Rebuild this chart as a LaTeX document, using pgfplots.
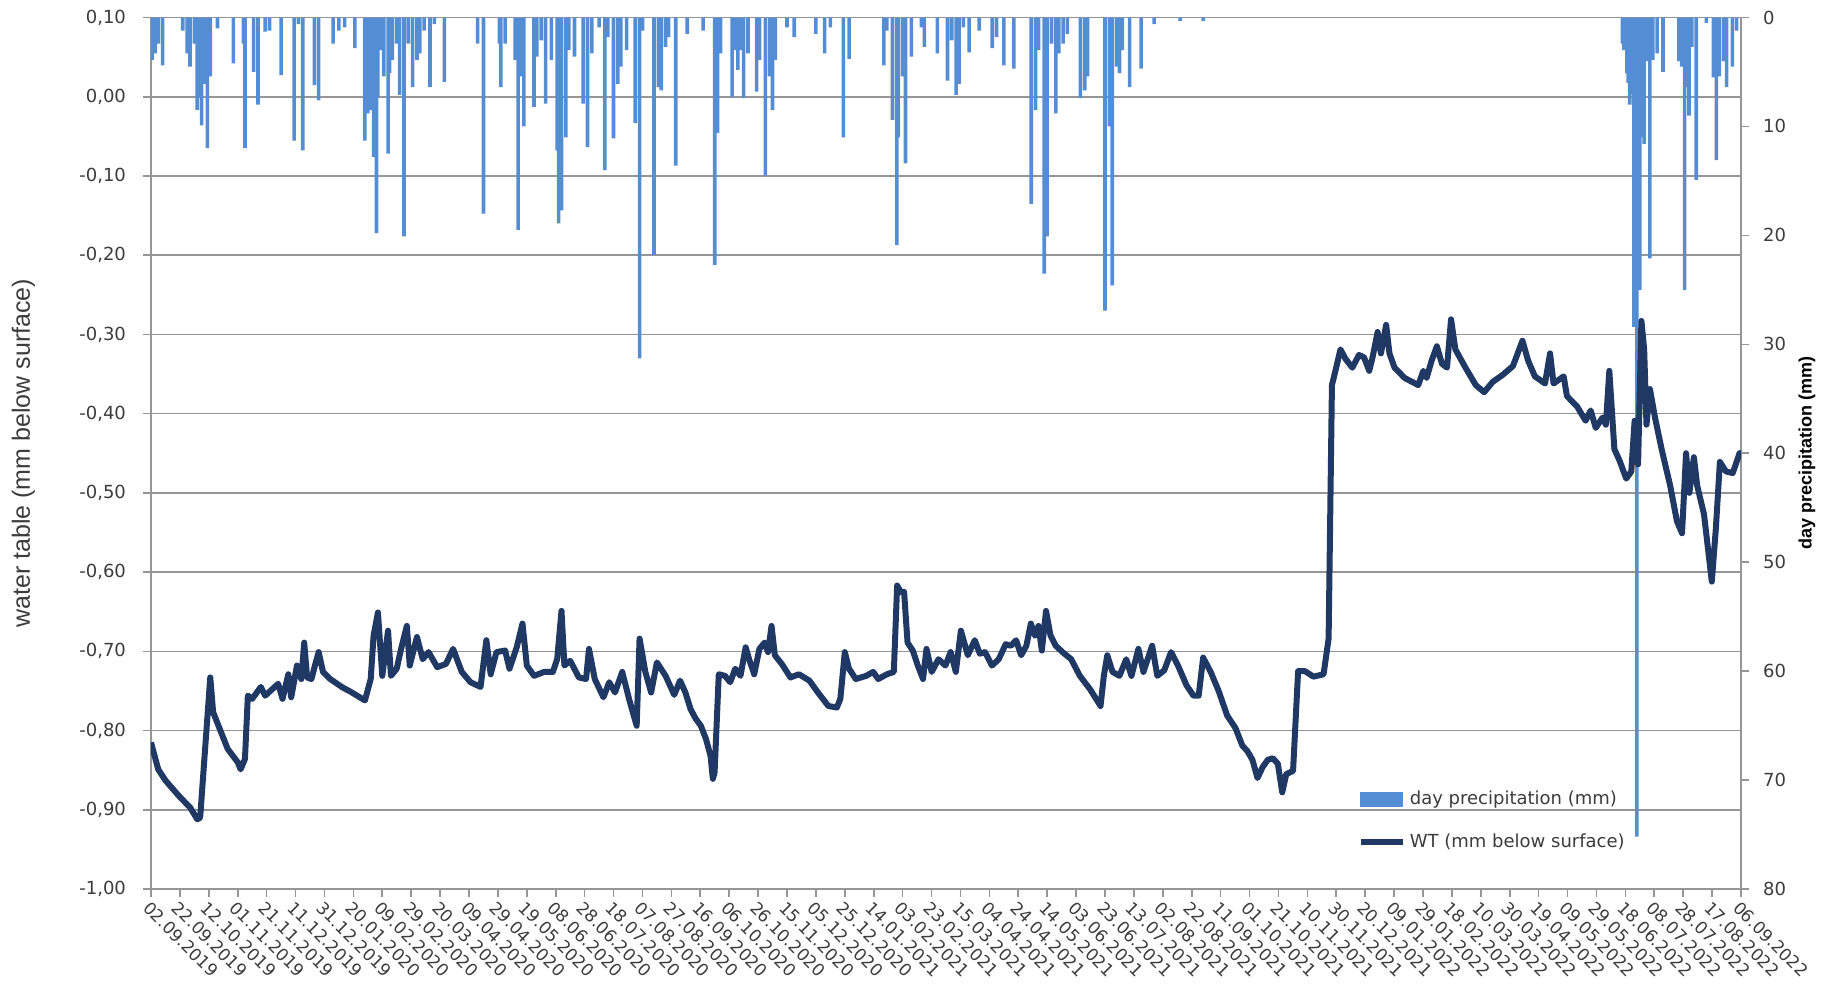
\documentclass[border=0pt]{standalone}
\usepackage{fontspec}
\setmainfont{DejaVu Sans}
\newfontfamily\labelfont{Liberation Sans}
\usepackage{pgfplots}
\pgfplotsset{compat=1.18}
\usepackage{pgfplotstable}

\definecolor{precip}{RGB}{84,141,212}
\definecolor{wtline}{RGB}{31,56,100}
\definecolor{gridgray}{RGB}{150,150,150}
\definecolor{txt}{RGB}{60,60,60}

\pgfplotstableread{
day mm
1 3.9
3 3.3
5 2.4
8 4.4
22 1.2
25 3.3
27 4.5
30 2.4
32 8.5
34 7.3
35 9.9
37 6.1
39 12.0
41 5.4
46 1.0
57 4.2
64 2.4
65 12.0
71 5.0
74 8.0
79 1.3
82 1.2
90 5.3
99 11.3
102 0.6
105 12.2
113 6.2
116 7.6
126 2.4
130 1.2
134 0.9
141 2.8
148 11.3
150 8.8
152 8.5
154 12.8
156 19.8
157 7.3
159 3.0
161 5.4
164 12.5
165 5.1
167 3.9
170 2.4
172 7.1
175 20.1
178 2.4
181 6.4
184 3.9
186 3.3
189 1.2
193 6.4
196 0.6
203 5.9
226 2.4
230 18.0
241 2.4
242 6.4
245 2.4
252 3.9
254 19.5
256 5.4
258 10.0
265 8.2
267 3.6
270 2.1
273 7.9
277 3.9
281 12.2
282 18.9
284 17.7
287 11.0
289 3.0
293 3.6
299 7.9
302 11.9
305 3.3
310 0.9
314 14.0
316 1.8
320 11.1
323 6.1
325 4.5
329 3.0
335 9.7
338 31.3
340 1.2
348 21.8
351 6.4
353 6.7
356 2.7
358 1.8
363 13.6
371 1.5
382 1.2
390 22.7
392 10.6
394 3.3
402 7.3
404 3.0
406 4.8
408 3.0
410 7.4
413 3.3
419 6.8
421 3.9
425 14.5
428 5.4
430 8.5
432 3.9
440 0.9
445 1.8
460 1.5
466 3.3
470 0.9
479 11.0
483 3.8
507 4.4
509 1.2
513 9.4
516 20.9
517 11.0
520 5.4
522 13.4
526 3.6
533 0.9
535 2.7
544 3.3
551 5.8
554 2.1
557 7.1
559 6.1
562 0.9
566 3.2
573 1.2
582 2.8
585 1.8
590 4.4
597 4.7
609 17.1
612 8.5
614 3.0
618 23.5
620 20.1
623 2.4
626 8.8
628 3.3
631 2.4
634 1.5
643 7.4
646 6.7
648 5.4
660 26.9
663 10.0
665 24.6
668 4.5
670 5.1
672 3.0
677 6.4
685 4.7
694 0.6
712 0.3
728 0.3
1018 2.4
1019 3.0
1021 5.1
1022 6.0
1023 8.0
1024 7.0
1026 28.4
1027 9.0
1028 75.2
1029 10.5
1030 25.0
1031 11.0
1033 11.6
1035 4.0
1037 22.1
1039 3.9
1042 3.3
1046 5.0
1057 4.0
1059 4.5
1061 25.0
1063 6.4
1064 9.0
1066 2.7
1069 14.9
1076 0.5
1081 5.5
1083 13.1
1085 5.4
1088 4.0
1090 6.4
1094 4.5
1097 1.2
}\precipdata

\pgfplotstableread{
day wt
0 -0.815
5 -0.849
10 -0.863
20 -0.884
27 -0.897
32 -0.912
34 -0.910
41 -0.733
43 -0.777
53 -0.823
60 -0.840
62 -0.849
65 -0.836
67 -0.756
70 -0.760
76 -0.745
79 -0.756
88 -0.741
91 -0.760
95 -0.729
97 -0.758
101 -0.718
104 -0.735
106 -0.689
108 -0.733
111 -0.735
114 -0.714
116 -0.701
119 -0.726
124 -0.735
132 -0.745
139 -0.752
148 -0.762
152 -0.735
154 -0.680
157 -0.651
160 -0.731
164 -0.674
166 -0.731
170 -0.722
173 -0.697
177 -0.668
179 -0.718
184 -0.682
188 -0.710
192 -0.701
198 -0.720
204 -0.716
209 -0.697
215 -0.726
221 -0.739
228 -0.745
232 -0.686
235 -0.729
239 -0.701
245 -0.699
248 -0.722
253 -0.695
257 -0.665
260 -0.718
265 -0.731
272 -0.726
278 -0.726
281 -0.710
284 -0.649
286 -0.718
290 -0.712
296 -0.733
301 -0.735
303 -0.697
307 -0.735
313 -0.758
317 -0.739
321 -0.752
326 -0.726
331 -0.762
336 -0.794
338 -0.684
342 -0.726
346 -0.752
350 -0.714
356 -0.731
362 -0.755
366 -0.737
369.7 -0.752
373.3 -0.773
376.8 -0.785
380.4 -0.794
384 -0.811
387.1 -0.832
388.7 -0.861
389.9 -0.853
392.8 -0.729
397.1 -0.731
400.7 -0.739
404.2 -0.722
407.8 -0.731
411.4 -0.695
413.8 -0.710
417.3 -0.729
420.9 -0.697
424.5 -0.689
426.9 -0.701
429.3 -0.668
431.6 -0.705
436.4 -0.716
442.4 -0.733
448.3 -0.729
455.5 -0.737
461.4 -0.752
468.6 -0.769
474.5 -0.771
476.9 -0.760
480.0 -0.701
482.9 -0.722
487.6 -0.735
494.8 -0.731
499.6 -0.726
503.1 -0.735
509.1 -0.729
513.9 -0.726
516.2 -0.617
518.6 -0.625
521.0 -0.625
523.4 -0.689
527.0 -0.699
530.5 -0.718
534.1 -0.735
536.5 -0.697
540.1 -0.726
544.8 -0.710
549.6 -0.718
553.2 -0.701
556.8 -0.726
560.3 -0.674
565.1 -0.705
569.9 -0.686
573.4 -0.703
577.0 -0.701
581.8 -0.718
586.5 -0.710
591.3 -0.691
594.9 -0.693
598.5 -0.686
602.0 -0.705
605.6 -0.693
608.7 -0.665
611.6 -0.680
614.0 -0.668
616.3 -0.699
619.2 -0.649
622.3 -0.680
625.9 -0.693
630.6 -0.701
636.6 -0.710
642.6 -0.731
649.7 -0.748
656.9 -0.769
659.2 -0.731
661.6 -0.705
665.2 -0.726
670.0 -0.731
674.7 -0.710
678.3 -0.731
683.1 -0.697
686.6 -0.726
692.6 -0.693
696.2 -0.731
701.0 -0.724
705.7 -0.701
710.5 -0.718
716.4 -0.743
721.2 -0.756
724.8 -0.756
727.9 -0.708
733.1 -0.726
738.6 -0.750
744.5 -0.781
750.3 -0.797
755.0 -0.819
758.5 -0.826
762.0 -0.837
765.5 -0.860
769.1 -0.846
772.6 -0.837
776.1 -0.835
779.6 -0.842
782.6 -0.878
785.4 -0.855
790.1 -0.851
793.6 -0.725
798.3 -0.725
804.2 -0.732
811.2 -0.729
814.7 -0.684
817.0 -0.364
819.4 -0.346
822.9 -0.319
826.4 -0.331
831.1 -0.342
835.7 -0.326
839.2 -0.329
842.8 -0.346
845.1 -0.329
848.6 -0.297
850.9 -0.324
854.5 -0.288
856.8 -0.324
860.3 -0.342
867.3 -0.355
876.7 -0.364
880.2 -0.346
882.5 -0.355
886.0 -0.333
889.6 -0.315
893.1 -0.337
896.6 -0.342
899.4 -0.281
902.4 -0.319
909.4 -0.342
916.5 -0.364
922.3 -0.373
928.2 -0.360
935.2 -0.351
942.2 -0.340
948.8 -0.308
952.7 -0.333
957.4 -0.353
964.4 -0.362
967.9 -0.324
970.3 -0.362
977.3 -0.353
979.6 -0.378
986.6 -0.391
992.5 -0.409
996.0 -0.396
999.5 -0.418
1004.2 -0.405
1006.5 -0.414
1008.9 -0.346
1012.4 -0.445
1015.9 -0.459
1020.6 -0.482
1024.1 -0.473
1026.4 -0.409
1028.8 -0.464
1031.1 -0.283
1033.0 -0.319
1034.6 -0.414
1037.0 -0.369
1040.5 -0.405
1045.1 -0.445
1051.0 -0.491
1055.7 -0.536
1059.2 -0.551
1062.0 -0.450
1064.3 -0.500
1067.4 -0.455
1069.7 -0.491
1074.4 -0.527
1079.8 -0.612
1082.6 -0.545
1085.4 -0.461
1089.6 -0.473
1094.3 -0.475
1099.0 -0.450
1100.0 -0.450
}\wtdata

\begin{document}
\begin{tikzpicture}
\pgfplotsset{
  base/.style={width=795pt, height=435.75pt, scale only axis, xmin=0, xmax=1100},
  tick label style={font=\fontsize{9}{10}\selectfont, text=txt},
}
% axis 1: grid, left axis, dates
\begin{axis}[base, ymin=-1, ymax=0.1,
  axis x line*=bottom, axis y line*=left,
  axis line style={draw=gridgray, line width=0.8pt},
  ytick={-1,-0.9,-0.8,-0.7,-0.6,-0.5,-0.4,-0.3,-0.2,-0.1,0,0.1},
  ymajorgrids, grid style={draw=gridgray, line width=0.8pt},
  tick align=outside, major tick length=4pt,
  tick style={draw=gridgray, line width=0.8pt},
  yticklabel style={/pgf/number format/.cd, fixed, fixed zerofill, precision=2, use comma, assume math mode=true, /tikz/.cd, xshift=-5pt},
  xtick={0,20,...,1100},
  xticklabels={02.09.2019,22.09.2019,12.10.2019,01.11.2019,21.11.2019,11.12.2019,31.12.2019,20.01.2020,09.02.2020,29.02.2020,20.03.2020,09.04.2020,29.04.2020,19.05.2020,08.06.2020,28.06.2020,18.07.2020,07.08.2020,27.08.2020,16.09.2020,06.10.2020,26.10.2020,15.11.2020,05.12.2020,25.12.2020,14.01.2021,03.02.2021,23.02.2021,15.03.2021,04.04.2021,24.04.2021,14.05.2021,03.06.2021,23.06.2021,13.07.2021,02.08.2021,22.08.2021,11.09.2021,01.10.2021,21.10.2021,10.11.2021,30.11.2021,20.12.2021,09.01.2022,29.01.2022,18.02.2022,10.03.2022,30.03.2022,19.04.2022,09.05.2022,29.05.2022,18.06.2022,08.07.2022,28.07.2022,17.08.2022,06.09.2022},
  xticklabel style={rotate=-45, anchor=north west, inner sep=1pt, font=\fontsize{8.5}{9}\selectfont},
  ylabel={\labelfont\fontsize{12.5}{14}\selectfont water table (mm below surface)},
  ylabel style={at={(axis description cs:-0.0803,0.5)}, anchor=center, text=txt},
]
\addplot[draw=none] coordinates {(0,0)};
\coordinate (bl) at (rel axis cs:0,0);
\coordinate (tr) at (rel axis cs:1,1);
\end{axis}
% axis 2: precipitation bars, right axis
\begin{axis}[base, ymin=0, ymax=80, y dir=reverse,
  axis y line*=right, axis x line=none,
  axis line style={draw=gridgray, line width=0.8pt},
  ytick={0,10,...,80},
  tick align=outside, major tick length=4pt,
  tick style={draw=gridgray, line width=0.8pt},
  yticklabel style={/pgf/number format/assume math mode=true, xshift=3.5pt},
  ylabel={\bfseries\labelfont\fontsize{9}{10}\selectfont day precipitation (mm)},
  ylabel style={at={(axis description cs:1.0415,0.5)}, anchor=center, rotate=0, text=black},
]
\addplot[ybar, bar width=1.8pt, bar shift=0pt, fill=precip, draw=none] table[x=day,y=mm]{\precipdata};
\end{axis}
% axis 3: water table line and legend
\begin{axis}[base, ymin=-1, ymax=0.1, hide axis,
  legend style={draw=none, fill=none, at={(0.755,0.035)}, anchor=south west,
    font=\fontsize{9}{10}\selectfont, text=txt, row sep=9pt},
  legend cell align=left,
]
\addlegendimage{legend image code/.code={\fill[precip] (0pt,-3.5pt) rectangle (21pt,3.5pt);}}
\addlegendentry{day precipitation (mm)}
\addplot[wtline, line width=3pt, line join=round,
  legend image code/.code={\draw[wtline, line width=3pt] (0pt,0pt) -- (21pt,0pt);}]
  table[x=day,y=wt]{\wtdata};
\addlegendentry{WT (mm below surface)}
\end{axis}
\pgfresetboundingbox
\path[use as bounding box] ([xshift=-75.5pt,yshift=-49pt]bl) rectangle ([xshift=46pt,yshift=8.75pt]tr);
\end{tikzpicture}
\end{document}
